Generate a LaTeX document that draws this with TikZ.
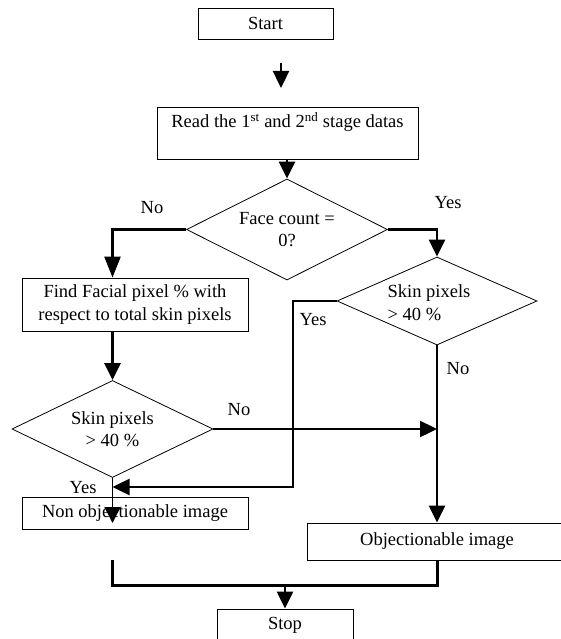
\documentclass[tikz,border=0pt]{standalone}
\usepackage{fontspec}
\setmainfont{Liberation Serif}
\usetikzlibrary{shapes.geometric,arrows.meta}
\begin{document}
\begin{tikzpicture}[x=1pt,y=-1pt,
  every node/.style={font=\fontsize{18.5}{22.5}\selectfont, inner sep=0pt},
  box/.style={draw, line width=0.9pt, rectangle},
  decision/.style={draw, line width=0.8pt, diamond, shape aspect=2},
  flow/.style={line width=2.4pt, -{Triangle[width=16pt,length=17pt]}},
  flowlong/.style={line width=2.4pt, -{Triangle[width=16pt,length=21pt]}},
  flowthin/.style={line width=1.6pt, -{Triangle[width=16pt,length=16pt]}},
  plainline/.style={line width=1.6pt},
  merge/.style={line width=3pt},
  lbl/.style={font=\fontsize{18.5}{22.5}\selectfont}
]
\useasboundingbox (0,0) rectangle (560,639);

% process boxes
\node[box, minimum width=135pt, minimum height=31pt] (start) at (265.5,23.5) {Start};
\node[box, minimum width=261pt, minimum height=52pt] (read) at (287.5,133) {};
\node (readtxt) at (287.5,122) {Read the 1\textsuperscript{st} and 2\textsuperscript{nd} stage datas};
\node[box, minimum width=226pt, minimum height=53pt, align=center] (find) at (135,304.5)
  {Find Facial pixel \% with\\respect to total skin pixels};
\node[box, minimum width=226pt, minimum height=32pt] (nonobj) at (135,513) {Non objectionable image};
\node[box, minimum width=260pt, minimum height=37pt] (obj) at (437,541.5) {Objectionable image};
\node[box, minimum width=136pt, minimum height=32pt] (stop) at (285,625) {Stop};

% decisions
\node[decision, minimum width=201pt, minimum height=101pt, align=center] (face) at (287,229.5)
  {Face count =\\0?};
\node[decision, minimum width=200pt, minimum height=88pt] (skinR) at (437,301) {};
\node[align=left] (skinRtxt) at (429,302.5) {Skin pixels\\> 40 \%};
\node[decision, minimum width=201pt, minimum height=97pt, align=center] (skinL) at (112.5,429)
  {Skin pixels\\> 40 \%};

% free ends of connectors
\coordinate (a1s) at (281,63);
\coordinate (a1e) at (281,88);
\coordinate (ybend) at (293,487);
\coordinate (ytip) at (112.5,487);
\coordinate (gap) at (437,455);
\coordinate (ltip) at (112.5,523);
\coordinate (mtop) at (112.5,560);
\coordinate (mcorner) at (112.5,585);

% connectors
\draw[flow] (a1s) -- (a1e);
\draw[flow] (read.south -| face.north) -- (face.north);
\draw[flowlong] (face.west) -| (find.north -| skinL.north);
\draw[flow] (face.east) -| (skinR.north);
\draw[flow] (find.south -| skinL.north) -- (skinL.north);
\draw[flow] (skinR.west) -| (ybend) -- (ytip);
\draw[flow] (skinL.east) -- (skinL.east -| skinR.south);
\draw[plainline] (skinR.south) -- (gap);
\draw[flow] (gap) -- (obj.north);
\draw[flowthin] (skinL.south) -- (ltip);
\draw[merge] (mtop) -- (mcorner) -| (obj.south);
\draw[flow] (stop.north |- mcorner) -- (stop.north);

% branch labels
\node[lbl] (noA) at (152,208) {No};
\node[lbl] (yesA) at (448,203) {Yes};
\node[lbl] (yesB) at (313,320) {Yes};
\node[lbl] (noB) at (458,369) {No};
\node[lbl] (noC) at (239,410) {No};
\node[lbl] (yesC) at (83,488) {Yes};
\end{tikzpicture}
\end{document}
